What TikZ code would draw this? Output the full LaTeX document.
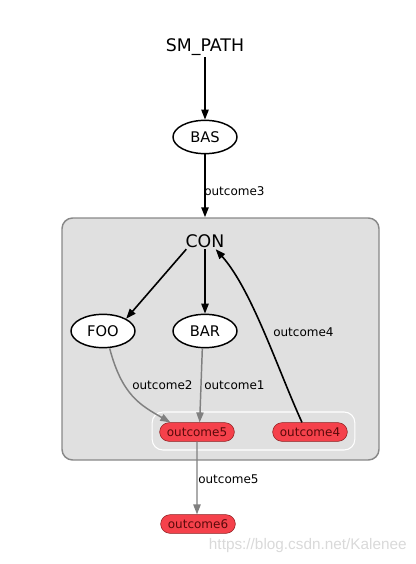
\documentclass[tikz,border=0pt]{standalone}
\usepackage{fontspec}
\setmainfont{DejaVu Sans}
\newfontfamily\wmfont{Liberation Sans}
\usetikzlibrary{shapes.geometric, shapes.misc, arrows, arrows.meta}
\definecolor{clustergray}{HTML}{E0E0E0}
\definecolor{clusterline}{HTML}{888888}
\definecolor{outred}{HTML}{F5414B}
\definecolor{outline}{HTML}{8B1E1E}
\definecolor{outtext}{HTML}{5A0A0A}

\begin{document}
\begin{tikzpicture}[x=0.75pt, y=-0.75pt,
	state/.style={draw, line width=1.1pt, ellipse, fill=white, minimum width=48pt, minimum height=25pt, inner sep=0pt, font=\fontsize{11}{13}\selectfont},
	outc/.style={draw=outline, fill=outred, rounded rectangle, minimum width=56pt, minimum height=14pt, inner sep=0pt, text=outtext, font=\fontsize{9}{11}\selectfont},
	lbl/.style={anchor=west, inner sep=0pt, font=\fontsize{9}{11}\selectfont},
	big/.style={inner sep=1pt, font=\fontsize{13}{15}\selectfont},
	tr/.style={line width=1.2pt, -{Triangle[length=7.5pt, width=5.5pt]}},
	gtr/.style={line width=1.1pt, gray, -{Triangle[length=7.5pt, width=5.5pt]}}]
	\useasboundingbox (0,0) rectangle (416,564);
		% container
		\node[draw=clusterline, line width=1.1pt, fill=clustergray, rounded corners=8pt, minimum width=237.75pt, minimum height=181.5pt] at (220.5,339) (conbox) {};
		\node[draw=white, line width=0.8pt, fill=clustergray, rounded corners=8pt, minimum width=152pt, minimum height=28.5pt] at (253.5,431) (outbox) {};
		% nodes
		\node[big] at (205,47) (smpath) {SM\_PATH};
		\node[state] at (205,137) (bas) {BAS};
		\node[big] at (205,241) (con) {CON};
		\node[state] at (103,331) (foo) {FOO};
		\node[state] at (205,331) (bar) {BAR};
		\node[outc] at (197,432) (o5) {outcome5};
		\node[outc] at (310,432) (o4) {outcome4};
		\node[outc] at (198,524) (o6) {outcome6};
		% edges
		\draw[tr] (smpath) -- (bas);
		\draw[tr] (bas) -- (bas |- conbox.north);
		\node[lbl] at (204,191) (l3) {outcome3};
		\draw[tr] ([xshift=-14pt]con.south) -- (foo.north east);
		\draw[tr] (con.south) -- (bar);
		\draw[tr] ([xshift=-6pt]o4.north) .. controls (278,370) and (252,290) .. ([xshift=8pt]con.south);
		\node[lbl] at (273,332) (l4) {outcome4};
		\draw[gtr] ([xshift=5pt]foo.south) .. controls (122,395) and (140,405) .. ([xshift=-20pt]o5.north);
		\node[lbl] at (132,385) (l2) {outcome2};
		\draw[gtr] ([xshift=-2pt]bar.south) -- ([xshift=2pt]o5.north);
		\node[lbl] at (204,385) (l1) {outcome1};
		\draw[gtr] (o5) -- (o5 |- o6.north);
		\node[lbl] at (198,479) (l5) {outcome5};
		\node[anchor=east, inner sep=0pt, text=black!15, font=\wmfont\fontsize{11.5}{13}\selectfont] at (407,546) (wm) {https://blog.csdn.net/Kalenee};
		\end{tikzpicture}
\end{document}
